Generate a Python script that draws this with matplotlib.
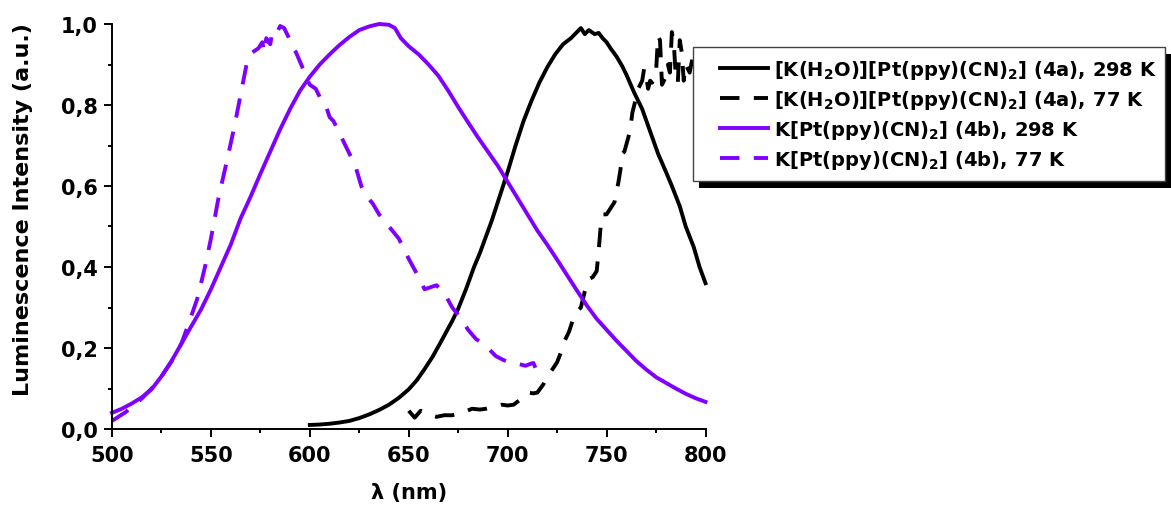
import matplotlib
matplotlib.use("Agg")
import matplotlib.pyplot as plt
from matplotlib.patches import Rectangle
from matplotlib.ticker import MultipleLocator, FixedLocator, FixedFormatter

plt.rcParams['font.family'] = ['DejaVu Sans']
plt.rcParams['font.weight'] = 'bold'
plt.rcParams['mathtext.fontset'] = 'custom'
plt.rcParams['mathtext.rm'] = 'DejaVu Sans:bold'
plt.rcParams['mathtext.bf'] = 'DejaVu Sans:bold'
plt.rcParams['mathtext.default'] = 'rm'

PURPLE = '#8000ff'

# 4a, 298 K (black solid)
wl_4a_298 = [600, 605, 610, 615, 620, 625, 630, 635, 640, 645, 650, 654, 658, 662, 666,
             669, 672, 675, 679, 683, 686, 689, 692, 696, 700, 704, 708, 712, 716, 720,
             724, 728, 732, 735, 737, 739, 741, 744, 746, 748, 750, 752, 755, 758, 760,
             764, 768, 772, 776, 780, 783, 787, 790, 794, 797, 800]
int_4a_298 = [0.010, 0.011, 0.013, 0.016, 0.020, 0.027, 0.036, 0.047, 0.060, 0.077, 0.098, 0.120,
              0.148, 0.178, 0.213, 0.240, 0.267, 0.297, 0.346, 0.400, 0.435, 0.475, 0.515,
              0.575, 0.635, 0.700, 0.760, 0.810, 0.855, 0.893, 0.925, 0.950, 0.965, 0.980,
              0.990, 0.975, 0.985, 0.975, 0.978, 0.965, 0.955, 0.940, 0.920, 0.895, 0.875,
              0.830, 0.790, 0.735, 0.680, 0.635, 0.600, 0.550, 0.500, 0.450, 0.400, 0.360]

# 4a, 77 K (black dashed)
wl_4a_77 = [650, 653, 656, 660, 664, 668, 672, 677, 682, 686, 689, 693, 697, 700, 703, 707,
            710, 713, 715, 718, 720, 723, 725, 727, 729, 731, 733, 735, 737, 739, 741, 743,
            745, 746, 747, 748, 750, 752, 754, 756, 757, 758, 759, 761, 762, 763, 764, 766,
            768, 769, 770, 771, 772, 773, 775, 776, 777, 778, 779, 780, 781, 782, 783, 784,
            785, 786, 787, 788, 789, 790, 792, 794, 796, 798, 800]
int_4a_77 = [0.045, 0.028, 0.045, 0.035, 0.030, 0.034, 0.034, 0.040, 0.050, 0.048, 0.050, 0.055,
             0.060, 0.058, 0.060, 0.075, 0.090, 0.088, 0.090, 0.110, 0.130, 0.150, 0.165, 0.190,
             0.220, 0.240, 0.270, 0.290, 0.300, 0.340, 0.370, 0.375, 0.390, 0.440, 0.500, 0.530,
             0.530, 0.545, 0.560, 0.610, 0.640, 0.680, 0.685, 0.720, 0.740, 0.780, 0.800, 0.840,
             0.860, 0.890, 0.870, 0.840, 0.860, 0.855, 0.880, 0.970, 0.960, 0.850, 0.860, 0.870,
             0.900, 0.880, 0.980, 0.950, 0.870, 0.855, 0.960, 0.930, 0.860, 0.900, 0.880, 0.930,
             0.870, 0.910, 0.890]

# 4b, 298 K (purple solid)
wl_4b_298 = [500, 505, 510, 515, 520, 525, 530, 535, 540, 545, 550, 555, 560, 565, 570, 575,
             580, 585, 590, 595, 600, 605, 610, 615, 620, 625, 630, 635, 640, 643, 646, 650,
             655, 660, 665, 670, 675, 680, 685, 690, 695, 700, 705, 710, 715, 720, 725, 730,
             735, 740, 745, 750, 755, 760, 765, 770, 775, 780, 785, 790, 795, 800]
int_4b_298 = [0.040, 0.050, 0.063, 0.078, 0.098, 0.130, 0.167, 0.210, 0.253, 0.295, 0.345, 0.400,
              0.455, 0.520, 0.573, 0.630, 0.685, 0.740, 0.790, 0.835, 0.870, 0.900, 0.925, 0.948,
              0.968, 0.985, 0.994, 1.000, 0.998, 0.990, 0.965, 0.945, 0.925, 0.900, 0.872, 0.835,
              0.795, 0.757, 0.720, 0.685, 0.650, 0.610, 0.570, 0.530, 0.490, 0.455, 0.418, 0.380,
              0.342, 0.305, 0.272, 0.245, 0.218, 0.193, 0.168, 0.147, 0.128, 0.114, 0.100, 0.087,
              0.076, 0.067]

# 4b, 77 K (purple dashed)
wl_4b_77 = [500, 507, 515, 520, 525, 530, 535, 538, 543, 547, 550, 554, 558, 562, 564, 566,
            568, 571, 574, 576, 577, 578, 580, 581, 583, 585, 587, 589, 591, 593, 596, 598,
            600, 603, 606, 608, 610, 612, 615, 619, 623, 626, 628, 632, 635, 640, 645, 650,
            655, 658, 661, 664, 668, 672, 676, 680, 684, 687, 690, 694, 698, 702, 706, 709,
            711, 713, 715]
int_4b_77 = [0.020, 0.042, 0.075, 0.100, 0.130, 0.166, 0.210, 0.250, 0.320, 0.400, 0.470, 0.575,
             0.660, 0.750, 0.800, 0.850, 0.900, 0.930, 0.940, 0.955, 0.930, 0.965, 0.950, 0.980,
             0.975, 0.995, 0.990, 0.970, 0.946, 0.930, 0.896, 0.870, 0.850, 0.840, 0.810, 0.800,
             0.770, 0.760, 0.730, 0.690, 0.650, 0.600, 0.580, 0.555, 0.530, 0.500, 0.470, 0.420,
             0.375, 0.345, 0.350, 0.355, 0.335, 0.300, 0.275, 0.245, 0.222, 0.213, 0.200, 0.180,
             0.170, 0.163, 0.160, 0.156, 0.160, 0.163, 0.140]

labels = [r'[K(H$_2$O)][Pt(ppy)(CN)$_2$] (4a), 298 K',
          r'[K(H$_2$O)][Pt(ppy)(CN)$_2$] (4a), 77 K',
          r'K[Pt(ppy)(CN)$_2$] (4b), 298 K',
          r'K[Pt(ppy)(CN)$_2$] (4b), 77 K']

x_ticks = [500, 550, 600, 650, 700, 750, 800]
y_ticks = [0.0, 0.2, 0.4, 0.6, 0.8, 1.0]
y_ticklabels = ['0,0', '0,2', '0,4', '0,6', '0,8', '1,0']

W, H = 1171, 510
fig = plt.figure(figsize=(W / 100, H / 100), dpi=100)
ax = fig.add_axes([112 / W, (H - 430) / H, (705.5 - 112) / W, (430 - 25) / H])

lw = 2.8
dash = (5, 3.7)
l1, = ax.plot(wl_4a_298, int_4a_298, color='black', lw=lw, clip_on=False)
l2, = ax.plot(wl_4a_77, int_4a_77, color='black', lw=lw, dashes=dash, clip_on=False)
l3, = ax.plot(wl_4b_298, int_4b_298, color=PURPLE, lw=lw, clip_on=False)
l4, = ax.plot(wl_4b_77, int_4b_77, color=PURPLE, lw=lw, dashes=dash, clip_on=False)

ax.set_xlim(500, 800)
ax.set_ylim(0, 1.0)
ax.spines['top'].set_visible(False)
ax.spines['right'].set_visible(False)
for s in ('left', 'bottom'):
    ax.spines[s].set_linewidth(1.4)

ax.xaxis.set_major_locator(FixedLocator(x_ticks))
ax.xaxis.set_minor_locator(MultipleLocator(25))
ax.yaxis.set_major_locator(FixedLocator(y_ticks))
ax.yaxis.set_major_formatter(FixedFormatter(y_ticklabels))
ax.yaxis.set_minor_locator(MultipleLocator(0.1))
ax.tick_params(which='major', direction='out', length=5.5, width=1.4, labelsize=15)
ax.tick_params(which='minor', direction='out', length=3, width=1.4)
ax.tick_params(axis='x', which='major', pad=6)
ax.tick_params(axis='y', which='major', pad=5)

ax.set_xlabel(r'λ (nm)', fontsize=15, fontweight='bold', labelpad=12)
ax.set_ylabel('Luminescence Intensity (a.u.)', fontsize=16, fontweight='bold')
ax.yaxis.set_label_coords(-0.133, 0.545)

# legend frame with a hard drop shadow
bx0, by0, bx1, by1 = 693, 48, 1165, 182
fig.patches.append(Rectangle(((bx0 + 6) / W, (H - by1 - 7) / H), (bx1 - bx0) / W, (by1 - by0) / H,
                             transform=fig.transFigure, facecolor='black', edgecolor='none', zorder=3))
fig.patches.append(Rectangle((bx0 / W, (H - by1) / H), (bx1 - bx0) / W, (by1 - by0) / H,
                             transform=fig.transFigure, facecolor='white', edgecolor='#444444',
                             lw=1.0, zorder=4))

fig.legend([l1, l2, l3, l4], labels, loc='upper left', bbox_to_anchor=(720 / W, 1 - 59 / H),
           frameon=False, fontsize=14, handlelength=2.45, handletextpad=0.35,
           labelspacing=0.36, borderpad=0, borderaxespad=0).set_zorder(5)

fig.savefig('out.png', dpi=100)
